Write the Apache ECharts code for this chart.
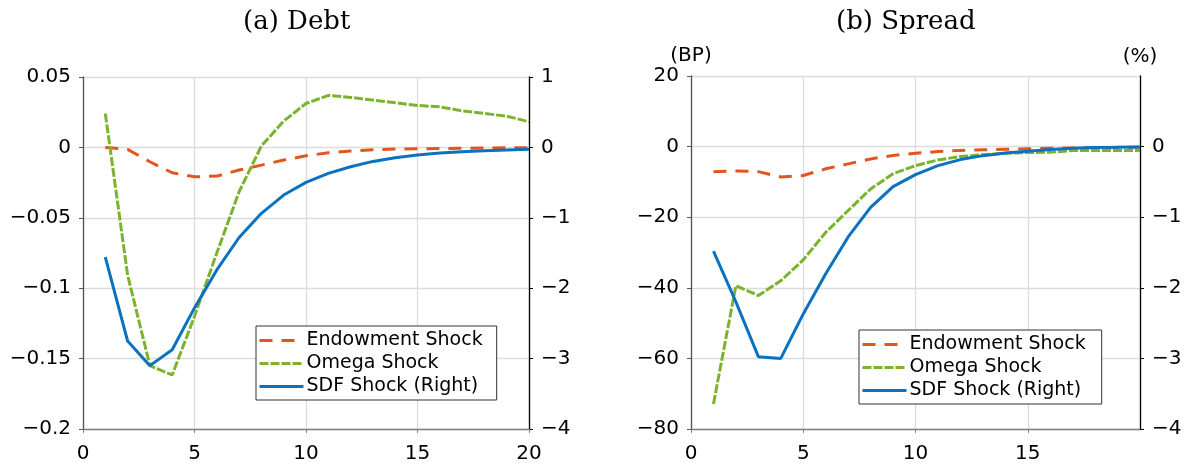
<!DOCTYPE html>
<html>
<head>
<meta charset="utf-8">
<script src="https://cdn.jsdelivr.net/npm/echarts@6/dist/echarts.min.js"></script>
<style>
html,body{margin:0;padding:0;background:#fff;}
#chart{width:1189px;height:466px;}
</style>
</head>
<body>
<div id="chart"></div>
<script>
// ---- Data ----
const periods = [1,2,3,4,5,6,7,8,9,10,11,12,13,14,15,16,17,18,19,20];
const seriesNames = ['Endowment Shock', 'Omega Shock', 'SDF Shock (Right)'];

// (a) Debt
const debtEndowment = [0, -0.0014, -0.0102, -0.018, -0.0209, -0.0204, -0.0161, -0.0126, -0.009, -0.006, -0.0038, -0.0026, -0.0017, -0.0012, -0.001, -0.0008, -0.0006, -0.0005, -0.0003, -0.0002];
const debtOmega = [0.0241, -0.0906, -0.155, -0.1616, -0.120, -0.075, -0.0315, 0.001, 0.0187, 0.0312, 0.0369, 0.0355, 0.0336, 0.0317, 0.0298, 0.0288, 0.026, 0.0241, 0.0222, 0.0182];
const debtSDF = [-1.56, -2.75, -3.10, -2.875, -2.28, -1.74, -1.28, -0.936, -0.677, -0.497, -0.369, -0.275, -0.199, -0.147, -0.109, -0.081, -0.063, -0.048, -0.038, -0.028];

// (b) Spread
const spreadEndowment = [-7.1, -6.9, -7.1, -8.6, -8.2, -6.3, -4.9, -3.5, -2.5, -1.9, -1.4, -1.1, -0.9, -0.75, -0.6, -0.5, -0.4, -0.3, -0.2, -0.15];
const spreadOmega = [-72.9, -39.4, -42.2, -38.0, -32.1, -24.3, -18.1, -12.0, -7.7, -5.4, -3.8, -2.8, -2.3, -1.9, -1.7, -1.6, -1.1, -1.1, -1.1, -1.1];
const spreadSDF = [-1.48, -2.2, -2.975, -3.0, -2.37, -1.80, -1.28, -0.86, -0.567, -0.397, -0.27, -0.184, -0.128, -0.09, -0.066, -0.04, -0.024, -0.014, -0.01, -0.005];

const titles = ['(a) Debt', '(b) Spread'];
const unitLeft = '(BP)';
const unitRight = '(%)';

// ---- Styles ----
const ORANGE = '#e2561d';
const GREEN = '#7bb32e';
const BLUE = '#0a72c0';
const FONT = 'DejaVu Sans';

function pair(xs, ys) { return xs.map((x, i) => [x, ys[i]]); }
function fmt(v) {
  const r = Math.round(v * 1000) / 1000;
  return String(r).replace('-', '\u2212');
}

const labelStyle = { color: '#000', fontSize: 20, fontFamily: FONT };

function xAxis(gi, hideMax) {
  return {
    type: 'value', gridIndex: gi, min: 0, max: 20, interval: 5,
    axisLine: { show: true, onZero: false, lineStyle: { color: '#808080', width: 1.3 } },
    axisTick: { show: true, length: 4, lineStyle: { color: '#808080' } },
    axisLabel: Object.assign({ margin: 15, showMaxLabel: !hideMax, formatter: fmt }, labelStyle),
    splitLine: { show: true, lineStyle: { color: '#dcdcdc', width: 1.3 } }
  };
}
function yLeft(gi, min, max, interval, name) {
  return {
    type: 'value', gridIndex: gi, min: min, max: max, interval: interval, position: 'left',
    name: name || '', nameLocation: 'end', nameGap: 9,
    nameTextStyle: { color: '#000', fontSize: 20, fontFamily: FONT, align: 'center' },
    axisLine: { show: true, lineStyle: { color: '#555', width: 1.3 } },
    axisTick: { show: true, length: 4, lineStyle: { color: '#555' } },
    axisLabel: Object.assign({ margin: 12, formatter: fmt }, labelStyle),
    splitLine: { show: true, lineStyle: { color: '#dcdcdc', width: 1.3 } }
  };
}
function yRight(gi, hideMax, name) {
  return {
    type: 'value', gridIndex: gi, min: -4, max: 1, interval: 1, position: 'right',
    name: name || '', nameLocation: 'end', nameGap: 9,
    nameTextStyle: { color: '#000', fontSize: 20, fontFamily: FONT, align: 'center' },
    axisLine: { show: true, lineStyle: { color: '#000', width: 1.3 } },
    axisTick: { show: true, length: 4, lineStyle: { color: '#000' } },
    axisLabel: Object.assign({ margin: 12, showMaxLabel: !hideMax, formatter: fmt }, labelStyle),
    splitLine: { show: false }
  };
}
function line(name, xi, yi, data, color, type) {
  return {
    name: name, type: 'line', xAxisIndex: xi, yAxisIndex: yi,
    data: data, symbol: 'none', showSymbol: false, silent: true, animation: false,
    lineStyle: { color: color, width: 3, type: type },
    itemStyle: { color: color }
  };
}
function legend(left, top, padRight) {
  return {
    data: seriesNames, orient: 'vertical', left: left, top: top,
    itemWidth: 44, itemHeight: 19, itemGap: 4,
    padding: [5, padRight, 4, 2],
    borderColor: '#333', borderWidth: 1, backgroundColor: '#fff',
    itemStyle: { opacity: 0 },
    lineStyle: { width: 3 },
    textStyle: { color: '#000', fontSize: 19, fontFamily: FONT, padding: [0, 0, 0, -2] },
    selectedMode: false
  };
}

const chart = echarts.init(document.getElementById('chart'), null, { renderer: 'canvas' });
chart.setOption({
  backgroundColor: '#fff',
  animation: false,
  graphic: [
    { type: 'text', left: 297 - 54, top: 9, style: { text: titles[0], fill: '#000', font: '26px "DejaVu Serif"' } },
    { type: 'text', left: 906 - 70, top: 9, style: { text: titles[1], fill: '#000', font: '26px "DejaVu Serif"' } }
  ],
  grid: [
    { left: 83, top: 77, width: 446, height: 352 },
    { left: 691, top: 76, width: 449, height: 353 }
  ],
  xAxis: [xAxis(0, false), xAxis(1, true)],
  yAxis: [
    yLeft(0, -0.2, 0.05, 0.05),
    yRight(0, false),
    yLeft(1, -80, 20, 20, unitLeft),
    yRight(1, true, unitRight)
  ],
  legend: [legend(256, 326, 14), legend(859, 330, 16)],
  series: [
    line(seriesNames[0], 0, 0, pair(periods, debtEndowment), ORANGE, [13, 9]),
    line(seriesNames[1], 0, 0, pair(periods, debtOmega), GREEN, [9, 2]),
    line(seriesNames[2], 0, 1, pair(periods, debtSDF), BLUE, 'solid'),
    line(seriesNames[0], 1, 2, pair(periods, spreadEndowment), ORANGE, [13, 9]),
    line(seriesNames[1], 1, 2, pair(periods, spreadOmega), GREEN, [9, 2]),
    line(seriesNames[2], 1, 3, pair(periods, spreadSDF), BLUE, 'solid')
  ]
});
</script>
</body>
</html>
